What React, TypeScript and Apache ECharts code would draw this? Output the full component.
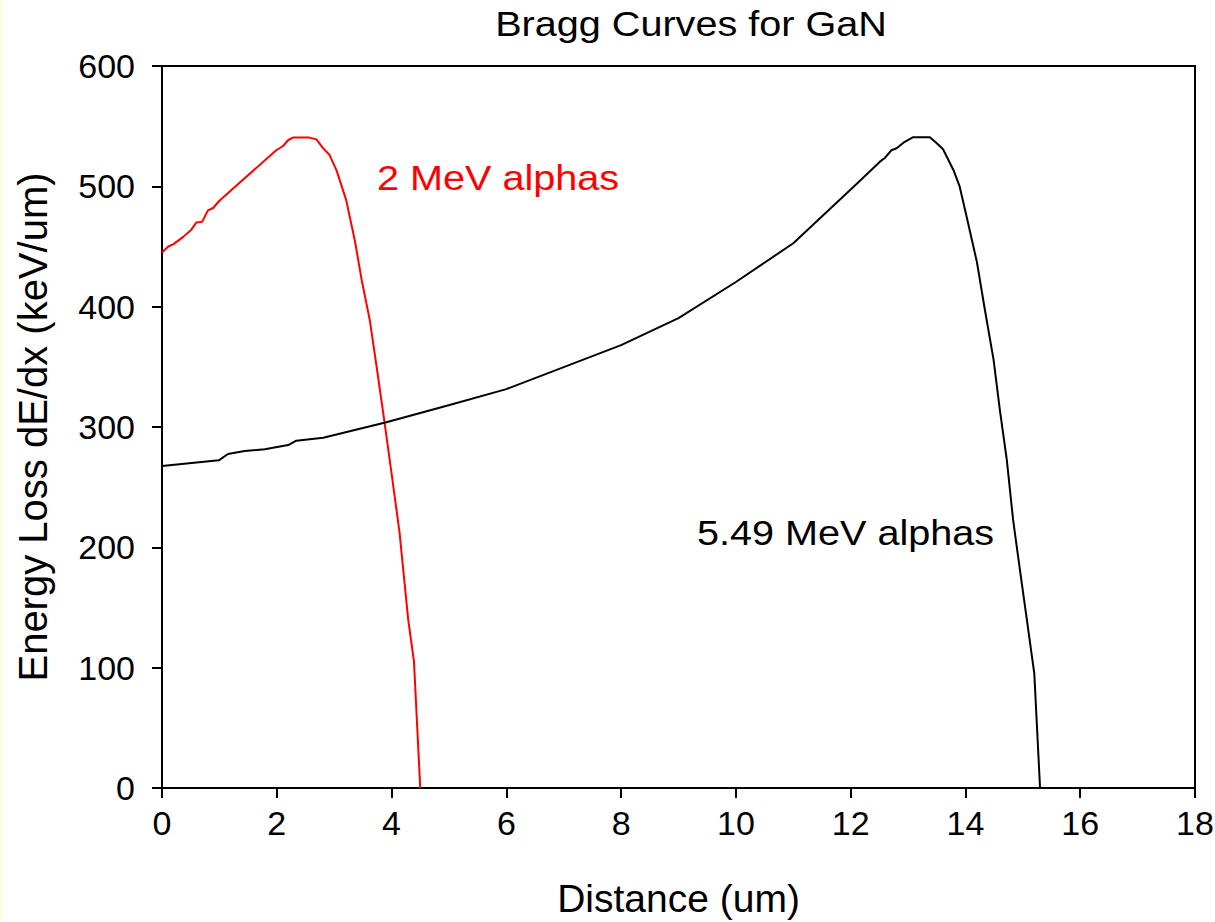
import React, { useEffect, useRef } from "react";
import * as echarts from "echarts";

const titleText = "Bragg Curves for GaN";
const xAxisName = "Distance (um)";
const yAxisName = "Energy Loss dE/dx (keV/um)";
const redLabel = "2 MeV alphas";
const blackLabel = "5.49 MeV alphas";

// 2 MeV alphas: [distance um, dE/dx keV/um]
const alpha2X = [0, 0.11, 0.2, 0.37, 0.51, 0.6, 0.7, 0.8, 0.89, 1.0, 1.99, 2.11, 2.2, 2.28, 2.57, 2.69, 2.81, 2.92, 3.04, 3.21, 3.36, 3.48, 3.62, 3.74, 3.88, 4.0, 4.14, 4.29, 4.39, 4.5];
const alpha2Y = [445, 450, 452, 458, 464, 470, 470.5, 480, 482, 488, 530, 533.5, 538.5, 540.5, 540.5, 539, 531.5, 526, 513.5, 488.5, 455, 422, 389, 350, 303, 261.5, 212, 140, 105.5, 0];

// 5.49 MeV alphas
const alpha549X = [0, 0.99, 1.15, 1.44, 1.79, 2.2, 2.34, 2.81, 3.91, 5.01, 6.0, 8.0, 9.0, 10.0, 11.0, 12.07, 12.51, 12.6, 12.71, 12.8, 12.92, 13.09, 13.38, 13.5, 13.61, 13.79, 13.9, 14.02, 14.2, 14.34, 14.49, 14.6, 14.72, 14.83, 14.95, 15.07, 15.2, 15.3];
const alpha549Y = [267.5, 272.3, 277.6, 280, 281.5, 285, 288.6, 291, 304, 318.3, 331.5, 368, 390.5, 420.5, 452.7, 500.5, 520.5, 523.8, 530, 531.6, 536.3, 540.8, 540.8, 535.8, 530.8, 513.6, 499.7, 475, 437, 397, 356, 314, 273, 223, 181, 140, 95, 0];

const FONT = "'Liberation Sans', Arial, Helvetica, sans-serif";

export default function App() {
  const ref = useRef<HTMLDivElement>(null);
  useEffect(() => {
    if (!ref.current) return;
    const chart = echarts.init(ref.current, undefined, { renderer: "svg" });
    const zip = (xs: number[], ys: number[]) => xs.map((x, i) => [x, ys[i]]);
    chart.setOption({
      animation: false,
      backgroundColor: "#ffffff",
      textStyle: { fontFamily: FONT },
      grid: {
        left: 162,
        right: 20,
        top: 66,
        bottom: 134,
        outerBoundsMode: "none",
        containLabel: false,
        show: true,
        borderColor: "#000",
        borderWidth: 2,
        backgroundColor: "transparent",
      },
      xAxis: {
        type: "value",
        min: 0,
        max: 18,
        interval: 2,
        name: xAxisName,
        nameLocation: "middle",
        nameGap: 91,
        nameTextStyle: { fontSize: 39, color: "#000", fontFamily: FONT },
        axisLine: { show: true, lineStyle: { color: "#000", width: 2 } },
        axisTick: { show: true, inside: false, length: 10, lineStyle: { color: "#000", width: 2 } },
        axisLabel: { fontSize: 34, color: "#000", margin: 18, fontFamily: FONT },
        splitLine: { show: false },
      },
      yAxis: {
        type: "value",
        min: 0,
        max: 600,
        interval: 100,
        name: yAxisName,
        nameLocation: "middle",
        nameGap: 109,
        nameTextStyle: { fontSize: 40, color: "#000", fontFamily: FONT },
        axisLine: { show: true, lineStyle: { color: "#000", width: 2 } },
        axisTick: { show: true, inside: false, length: 10, lineStyle: { color: "#000", width: 2 } },
        axisLabel: { fontSize: 34, color: "#000", margin: 27, fontFamily: FONT },
        splitLine: { show: false },
      },
      series: [
        {
          type: "line",
          name: redLabel,
          data: zip(alpha2X, alpha2Y),
          showSymbol: false,
          symbol: "none",
          lineStyle: { color: "#ff0000", width: 2 },
          itemStyle: { color: "#ff0000" },
        },
        {
          type: "line",
          name: blackLabel,
          data: zip(alpha549X, alpha549Y),
          showSymbol: false,
          symbol: "none",
          lineStyle: { color: "#000000", width: 2 },
          itemStyle: { color: "#000000" },
        },
      ],
      graphic: [
        {
          type: "rect",
          left: 0,
          top: 0,
          shape: { x: 0, y: 0, width: 3, height: 922 },
          style: { fill: "#ffffe6" },
          silent: true,
        },
        {
          type: "text",
          x: 691,
          y: 24,
          scaleX: 1.1,
          style: {
            text: titleText,
            fontSize: 36,
            fontFamily: FONT,
            fill: "#000",
            align: "center",
            verticalAlign: "middle",
          },
        },
        {
          type: "text",
          x: 377,
          y: 178,
          scaleX: 1.1,
          style: {
            text: redLabel,
            fontSize: 36,
            fontFamily: FONT,
            fill: "#ff0000",
            align: "left",
            verticalAlign: "middle",
          },
        },
        {
          type: "text",
          x: 697,
          y: 533,
          scaleX: 1.1,
          style: {
            text: blackLabel,
            fontSize: 36,
            fontFamily: FONT,
            fill: "#000",
            align: "left",
            verticalAlign: "middle",
          },
        },
      ],
    });
    return () => chart.dispose();
  }, []);
  return (
    <div
      ref={ref}
      style={{ position: "absolute", left: 0, top: 0, width: 1215, height: 922 }}
    />
  );
}
